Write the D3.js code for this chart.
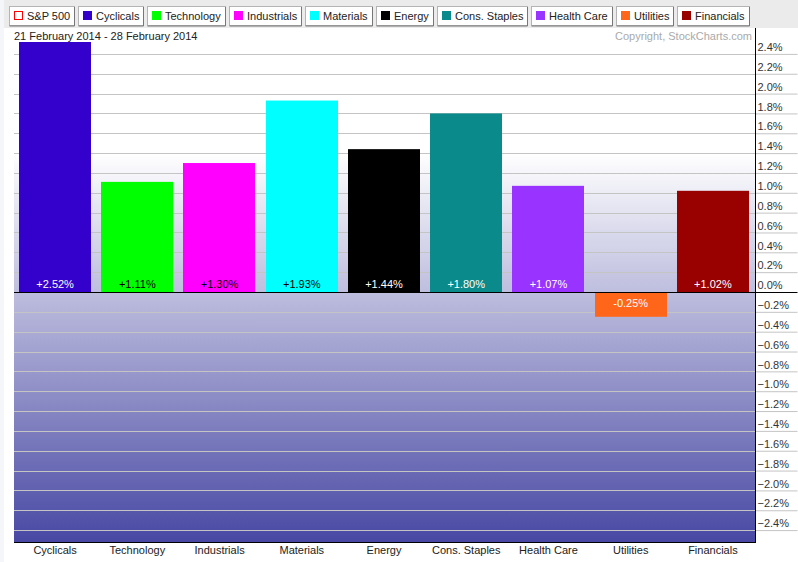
<!DOCTYPE html>
<html>
<head>
<meta charset="utf-8">
<script src="https://cdn.jsdelivr.net/npm/d3@7"></script>
<style>
  body { margin: 0; background: #fff; }
  svg text { font-family: "Liberation Sans", Arial, sans-serif; font-size: 11px; }
</style>
</head>
<body>
<div id="chart"></div>
<script>
// sector performance, one week
const sectors = ["Cyclicals", "Technology", "Industrials", "Materials", "Energy",
                 "Cons. Staples", "Health Care", "Utilities", "Financials"];
const changes = [2.52, 1.11, 1.30, 1.93, 1.44, 1.80, 1.07, -0.25, 1.02];
const colors = ["#3300cc", "#00ff00", "#ff00ff", "#00ffff", "#000000",
                "#0a8a8a", "#9933ff", "#ff6619", "#990000"];
const darkText = ["Technology", "Industrials", "Materials"];
const yTicks = [2.4, 2.2, 2.0, 1.8, 1.6, 1.4, 1.2, 1.0, 0.8, 0.6, 0.4, 0.2, 0,
                -0.2, -0.4, -0.6, -0.8, -1.0, -1.2, -1.4, -1.6, -1.8, -2.0, -2.2, -2.4];
const legendNames = ["S&P 500"].concat(sectors);
const legendColors = ["none"].concat(colors);

const w = 798, h = 562;
const plotL = 14, plotR = 755, plotT = 42, plotB = 542;

const svg = d3.select("#chart").append("svg")
  .attr("width", w).attr("height", h);

// page background
svg.append("rect").attr("width", w).attr("height", h).attr("fill", "#f4f6fa");
svg.append("rect").attr("x", 4).attr("y", 0).attr("width", w - 4).attr("height", h).attr("fill", "#fff");
svg.append("rect").attr("x", 4).attr("y", 0).attr("width", w - 4).attr("height", 28).attr("fill", "#ebebeb");

// gradient behind the plot
const grad = svg.append("defs").append("linearGradient")
  .attr("id", "bg").attr("gradientUnits", "userSpaceOnUse")
  .attr("x1", 0).attr("x2", 0).attr("y1", 153).attr("y2", plotB);
grad.append("stop").attr("offset", 0).attr("stop-color", "#ffffff");
grad.append("stop").attr("offset", 1).attr("stop-color", "#4848a4");

const x = d3.scaleBand().domain(sectors).range([plotL, plotR - 1])
  .paddingInner(0.1217).paddingOuter(0.0608);
const y = d3.scaleLinear().domain([-2.52, 2.52]).range([plotB, plotT]);

svg.append("rect").attr("x", plotL).attr("y", 28).attr("width", plotR - plotL)
  .attr("height", plotB - 28).attr("fill", "url(#bg)");

// grid
svg.append("g").selectAll("line").data(yTicks.filter(d => d !== 0)).enter()
  .append("line")
  .attr("x1", plotL).attr("x2", plotR)
  .attr("y1", d => Math.round(y(d)) + 0.5).attr("y2", d => Math.round(y(d)) + 0.5)
  .attr("stroke", "#c4c4c4");

// right axis
const yAxis = d3.axisRight(y).tickValues(yTicks).tickSize(42)
  .tickFormat(d => d3.format(".1f")(d) + "%");
const ya = svg.append("g").attr("transform", "translate(" + (plotR + 0.5) + ",0)").call(yAxis);
ya.select(".domain").remove();
ya.selectAll(".tick line").attr("stroke", d => d === 0 ? "#000" : "#c4c4c4");
ya.selectAll(".tick text").attr("x", 2).attr("dy", "-0.3em").attr("fill", "#333")
  .attr("text-anchor", "start")
  .style("font-family", "'Liberation Sans', Arial, sans-serif").style("font-size", "11px");
svg.append("line").attr("x1", plotR + 0.5).attr("x2", plotR + 0.5)
  .attr("y1", 28).attr("y2", plotB + 1).attr("stroke", "#000");

// bars
svg.append("g").selectAll("rect").data(sectors).enter().append("rect")
  .attr("x", d => Math.round(x(d)))
  .attr("width", Math.round(x.bandwidth()))
  .attr("y", (d, i) => y(Math.max(0, changes[i])))
  .attr("height", (d, i) => Math.abs(y(changes[i]) - y(0)))
  .attr("fill", (d, i) => colors[i]);

// value labels
svg.append("g").selectAll("text").data(sectors).enter().append("text")
  .attr("x", d => x(d) + x.bandwidth() / 2)
  .attr("y", (d, i) => changes[i] >= 0 ? y(0) - 4 : y(0) + 15)
  .attr("text-anchor", "middle")
  .attr("fill", d => darkText.includes(d) ? "#000" : "#fff")
  .text((d, i) => (changes[i] > 0 ? "+" : "") + changes[i].toFixed(2) + "%");

// zero line and bottom border
svg.append("line").attr("x1", plotL).attr("x2", plotR).attr("y1", Math.round(y(0)) + 0.5)
  .attr("y2", Math.round(y(0)) + 0.5).attr("stroke", "#000");
svg.append("line").attr("x1", plotL).attr("x2", plotR + 1).attr("y1", plotB + 0.5)
  .attr("y2", plotB + 0.5).attr("stroke", "#000");

// category labels
const xAxis = d3.axisBottom(x).tickSize(0).tickPadding(4);
const xa = svg.append("g").attr("transform", "translate(0," + plotB + ")").call(xAxis);
xa.select(".domain").remove();
xa.selectAll("text").attr("fill", "#222")
  .style("font-family", "'Liberation Sans', Arial, sans-serif").style("font-size", "11px");

// header texts
svg.append("text").attr("x", 14).attr("y", 40).attr("fill", "#222")
  .text("21 February 2014 - 28 February 2014");
svg.append("text").attr("x", 752).attr("y", 40).attr("fill", "#aaa")
  .attr("text-anchor", "end").text("Copyright, StockCharts.com");

// legend buttons
let bx = 9;
legendNames.forEach((name, i) => {
  const g = svg.append("g");
  const btn = g.append("rect").attr("y", 6.5).attr("height", 19).attr("fill", "#fff")
    .attr("stroke", "#b4b4b4");
  const t = g.append("text").attr("x", bx + 18).attr("y", 20).attr("fill", "#222").text(name);
  const bw = Math.round(t.node().getComputedTextLength()) + 22;
  btn.attr("x", bx + 0.5).attr("width", bw);
  g.append("path")
    .attr("d", "M" + (bx + 0.5) + ",26 h" + bw + " v-19")
    .attr("fill", "none").attr("stroke", "#777");
  if (legendColors[i] === "none") {
    g.append("rect").attr("x", bx + 5.5).attr("y", 11.5).attr("width", 8).attr("height", 8)
      .attr("fill", "#fff").attr("stroke", "#ff0000");
  } else {
    g.append("rect").attr("x", bx + 5).attr("y", 11).attr("width", 9).attr("height", 9)
      .attr("fill", legendColors[i]);
  }
  bx += bw + 4;
});
</script>
</body>
</html>
